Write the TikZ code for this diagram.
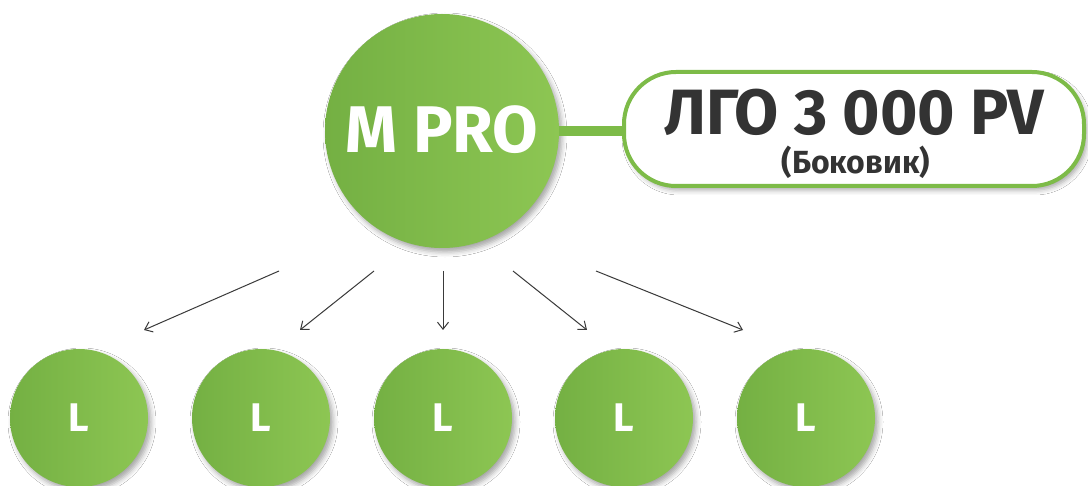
\documentclass[tikz,border=0pt]{standalone}
\usepackage{fontspec}
\setmainfont{Fira Sans}
\usetikzlibrary{shadows.blur,arrows.meta}
\definecolor{gL}{HTML}{74B043}
\definecolor{gR}{HTML}{8DC653}
\definecolor{gB}{HTML}{7DBB48}
\definecolor{txt}{HTML}{333333}
\definecolor{arr}{HTML}{3A3A3A}
\begin{document}
\begin{tikzpicture}[x=1pt,y=-1pt,
  ball/.style={circle, inner sep=0pt, outer sep=0pt, left color=gL, right color=gR,
    blur shadow={shadow xshift=3pt, shadow yshift=-4pt, shadow blur radius=5pt, shadow opacity=35}},
  small/.style={ball, minimum size=138pt, text=white, font=\fontsize{40}{40}\selectfont\bfseries},
  link/.style={draw=arr, line width=1pt, -{Straight Barb[length=7pt,width=11pt]}},
  boxst/.style={draw=gB, line width=4pt, fill=white, rounded corners=52pt, minimum width=460pt,
    minimum height=114pt, inner sep=0pt, outer sep=0pt,
    blur shadow={shadow xshift=3pt, shadow yshift=-4pt, shadow blur radius=5pt, shadow opacity=35}}]
\fill[white] (0,0) rectangle (1088,486);
\useasboundingbox (0,0) rectangle (1088,486);
% main circle and box
\node[boxst] (lgo) at (854,129) {};
\node[ball, minimum size=234pt, text=white, font=\fontsize{66}{66}\selectfont\bfseries] (m) at (442,131) {\raisebox{4pt}{M PRO}};
\draw[gB, line width=10pt] (m.east) -- (m.east -| lgo.west);
\node[text=txt, font=\fontsize{64}{64}\selectfont\bfseries, inner sep=0pt] (t1) at (854,112) {ЛГО 3 000 PV};
\node[text=txt, font=\fontsize{32}{32}\selectfont\bfseries, inner sep=0pt] (t2) at (856,162) {(Боковик)};
% small circles
\node[small] (l1) at (79,418) {L};
\node[small] (l2) at (261,418) {L};
\node[small] (l3) at (443,418) {L};
\node[small] (l4) at (624,418) {L};
\node[small] (l5) at (806,418) {L};
% arrows
\coordinate (s1) at (279,271); \coordinate (e1) at (144,330);
\coordinate (s2) at (374,271); \coordinate (e2) at (300,330);
\coordinate (s3) at (443,271); \coordinate (e3) at (443,330);
\coordinate (s4) at (513,271); \coordinate (e4) at (587,330);
\coordinate (s5) at (596,271); \coordinate (e5) at (743,330);
\foreach \i in {1,...,5} \draw[link] (s\i) -- (e\i);
\end{tikzpicture}
\end{document}
